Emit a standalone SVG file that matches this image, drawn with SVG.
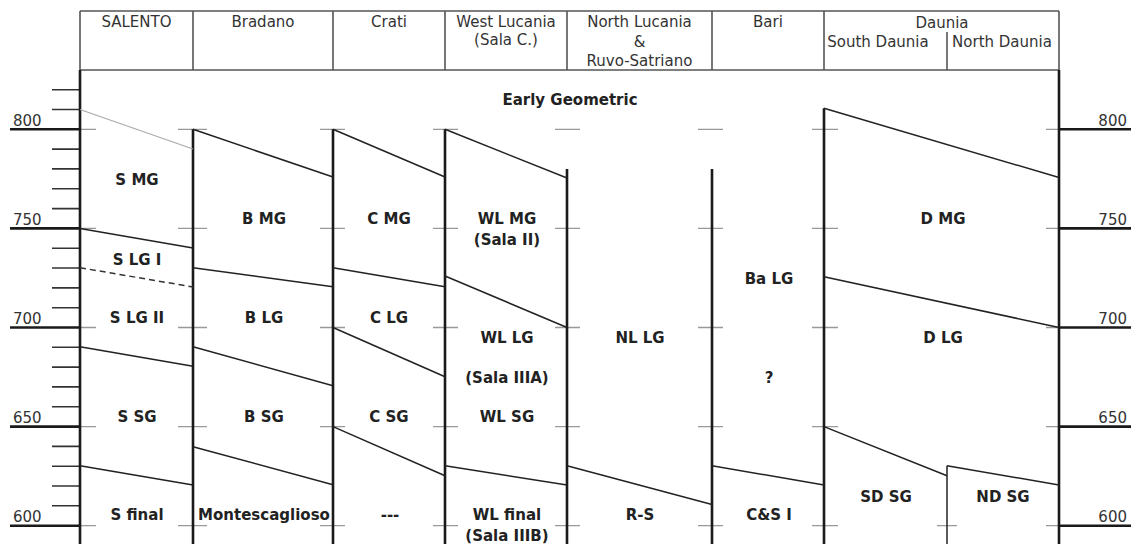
<svg xmlns="http://www.w3.org/2000/svg" width="1131" height="544" viewBox="0 0 1131 544">
  <style>
    .hdr { font-family: "DejaVu Sans", Verdana, sans-serif; font-size: 15px; fill: #333; text-anchor: middle; }
    .lbl { font-family: "DejaVu Sans", Verdana, sans-serif; font-size: 15px; font-weight: bold; fill: #222; text-anchor: middle; }
    .ax { font-family: "DejaVu Sans", Verdana, sans-serif; font-size: 15px; fill: #333; }
    .hline { stroke: #555; stroke-width: 1.6; fill: none; }
    .wall { stroke: #1a1a1a; stroke-width: 2.6; fill: none; }
    .div { stroke: #222; stroke-width: 1.5; fill: none; }
    .faint { stroke: #aaa; stroke-width: 1.3; fill: none; }
    .dash { stroke: #333; stroke-width: 1.5; stroke-dasharray: 6 4; fill: none; }
    .major { stroke: #1a1a1a; stroke-width: 2.6; }
    .minor { stroke: #333; stroke-width: 1.6; }
    .gtick { stroke: #999; stroke-width: 1.3; }
  </style>

  <rect x="0" y="0" width="1131" height="544" fill="#ffffff"/>

  <!-- Header -->
  <g id="header">
    <path class="hline" d="M80,11 H1059 M80,70 H1059 M80,11 V70 M193,11 V70 M333,11 V70 M445,11 V70 M567,11 V70 M712,11 V70 M824,11 V70 M1059,11 V70 M947,32 V70"/>
    <text class="hdr" x="136.5" y="27">SALENTO</text>
    <text class="hdr" x="263" y="27">Bradano</text>
    <text class="hdr" x="389" y="27">Crati</text>
    <text class="hdr" x="506" y="27">West Lucania</text>
    <text class="hdr" x="506" y="45">(Sala C.)</text>
    <text class="hdr" x="639.5" y="27">North Lucania</text>
    <text class="hdr" x="639.5" y="46.5">&amp;</text>
    <text class="hdr" x="639.5" y="66">Ruvo-Satriano</text>
    <text class="hdr" x="768" y="27">Bari</text>
    <text class="hdr" x="942" y="27.5">Daunia</text>
    <text class="hdr" x="878" y="46.5">South Daunia</text>
    <text class="hdr" x="1002" y="46.5">North Daunia</text>
  </g>

  <!-- Axes -->
  <g id="axis-left">
    <path class="major" d="M10,129.3 H80 M10,228.4 H80 M10,327.5 H80 M10,426.6 H80 M10,525.7 H80"/>
    <path class="minor" d="M52,89.7 H80 M52,109.5 H80 M52,149.1 H80 M52,168.9 H80 M52,188.7 H80 M52,208.6 H80 M52,248.2 H80 M52,268 H80 M52,287.9 H80 M52,307.7 H80 M52,347.3 H80 M52,367.1 H80 M52,386.9 H80 M52,406.8 H80 M52,446.4 H80 M52,466.2 H80 M52,486 H80 M52,505.8 H80"/>
    <text class="ax" x="13" y="125.5">800</text>
    <text class="ax" x="13" y="224.5">750</text>
    <text class="ax" x="13" y="323.5">700</text>
    <text class="ax" x="13" y="422.5">650</text>
    <text class="ax" x="13" y="521.5">600</text>
  </g>
  <g id="axis-right">
    <path class="major" d="M1059,129.3 H1131 M1059,228.4 H1131 M1059,327.5 H1131 M1059,426.6 H1131 M1059,525.7 H1131"/>
    <text class="ax" x="1127" y="125.5" text-anchor="end">800</text>
    <text class="ax" x="1127" y="224.5" text-anchor="end">750</text>
    <text class="ax" x="1127" y="323.5" text-anchor="end">700</text>
    <text class="ax" x="1127" y="422.5" text-anchor="end">650</text>
    <text class="ax" x="1127" y="521.5" text-anchor="end">600</text>
  </g>

  <!-- Grey reference ticks on column boundaries -->
  <g id="grid-ticks">
    <path class="gtick" d="M80,129.3 H96 M80,228.4 H96 M80,327.5 H96 M80,426.6 H96 M80,525.7 H96
      M178,129.3 H207 M178,228.4 H207 M178,327.5 H207 M178,426.6 H207 M178,525.7 H207
      M320,129.3 H345 M320,228.4 H345 M320,327.5 H345 M320,426.6 H345 M320,525.7 H345
      M433,129.3 H458 M433,228.4 H458 M433,327.5 H458 M433,426.6 H458 M433,525.7 H458
      M555,129.3 H580 M555,228.4 H580 M555,327.5 H580 M555,426.6 H580 M555,525.7 H580
      M698,129.3 H723 M698,228.4 H723 M698,327.5 H723 M698,426.6 H723 M698,525.7 H723
      M812,129.3 H838 M812,228.4 H838 M812,327.5 H838 M812,426.6 H838 M812,525.7 H838
      M1046,129.3 H1059 M1046,228.4 H1059 M1046,327.5 H1059 M1046,426.6 H1059 M1046,525.7 H1059
      M937,525.7 H957"/>
  </g>

  <!-- Connectors: column walls and period boundaries -->
  <g id="connectors">
    <path class="wall" d="M80,70 V544 M1059,70 V544 M193,129.3 V544 M333,129.3 V544 M445,129.3 V544 M567,169 V544 M712,169 V544 M824,108.3 V544"/>
    <path class="div" d="M947,465.7 V544" stroke-width="2"/>
    <!-- Salento -->
    <path class="faint" d="M80,109.5 L193,149"/>
    <path class="div" d="M80,228.4 L193,248"/>
    <path class="dash" d="M80,267.7 L193,287"/>
    <path class="div" d="M80,346.7 L193,366.3"/>
    <path class="div" d="M80,465.7 L193,485"/>
    <!-- Bradano -->
    <path class="div" d="M193,129.3 L333,177"/>
    <path class="div" d="M193,267.7 L333,286.7"/>
    <path class="div" d="M193,346.7 L333,385.7"/>
    <path class="div" d="M193,446.7 L333,484.7"/>
    <!-- Crati -->
    <path class="div" d="M333,129.3 L445,177"/>
    <path class="div" d="M333,267.7 L445,286.7"/>
    <path class="div" d="M333,327.5 L445,376.7"/>
    <path class="div" d="M333,426.6 L445,475.7"/>
    <!-- West Lucania -->
    <path class="div" d="M445,129.3 L567,178"/>
    <path class="div" d="M445,276 L567,327.5"/>
    <path class="div" d="M445,465.7 L567,485"/>
    <!-- North Lucania -->
    <path class="div" d="M567,465.7 L712,504.5"/>
    <!-- Bari -->
    <path class="div" d="M712,465.7 L824,485"/>
    <!-- Daunia -->
    <path class="div" d="M824,108.3 L1059,177.5"/>
    <path class="div" d="M824,276.7 L1059,327.5"/>
    <path class="div" d="M824,426.6 L947,475.7"/>
    <path class="div" d="M947,465.7 L1059,485"/>
  </g>

  <!-- Period labels -->
  <g id="label-early-geometric"><text class="lbl" x="570" y="105">Early Geometric</text></g>
  <g id="col-salento">
    <text class="lbl" x="137" y="185">S MG</text>
    <text class="lbl" x="137" y="265">S LG I</text>
    <text class="lbl" x="137" y="323">S LG II</text>
    <text class="lbl" x="137" y="422">S SG</text>
    <text class="lbl" x="137" y="520">S final</text>
  </g>
  <g id="col-bradano">
    <text class="lbl" x="264" y="224">B MG</text>
    <text class="lbl" x="264" y="323">B LG</text>
    <text class="lbl" x="264" y="422">B SG</text>
    <text class="lbl" x="264" y="520">Montescaglioso</text>
  </g>
  <g id="col-crati">
    <text class="lbl" x="389" y="224">C MG</text>
    <text class="lbl" x="389" y="323">C LG</text>
    <text class="lbl" x="389" y="422">C SG</text>
    <text class="lbl" x="390" y="520">---</text>
  </g>
  <g id="col-west-lucania">
    <text class="lbl" x="507" y="224">WL MG</text>
    <text class="lbl" x="507" y="245">(Sala II)</text>
    <text class="lbl" x="507" y="343">WL LG</text>
    <text class="lbl" x="507" y="383">(Sala IIIA)</text>
    <text class="lbl" x="507" y="422">WL SG</text>
    <text class="lbl" x="507" y="520">WL final</text>
    <text class="lbl" x="507" y="541">(Sala IIIB)</text>
  </g>
  <g id="col-north-lucania">
    <text class="lbl" x="640" y="343">NL LG</text>
    <text class="lbl" x="640" y="520">R-S</text>
  </g>
  <g id="col-bari">
    <text class="lbl" x="769" y="284">Ba LG</text>
    <text class="lbl" x="769" y="383">?</text>
    <text class="lbl" x="769" y="520">C&amp;S I</text>
  </g>
  <g id="col-daunia">
    <text class="lbl" x="943" y="224">D MG</text>
    <text class="lbl" x="943" y="343">D LG</text>
    <text class="lbl" x="886" y="502">SD SG</text>
    <text class="lbl" x="1003" y="502">ND SG</text>
  </g>
</svg>
